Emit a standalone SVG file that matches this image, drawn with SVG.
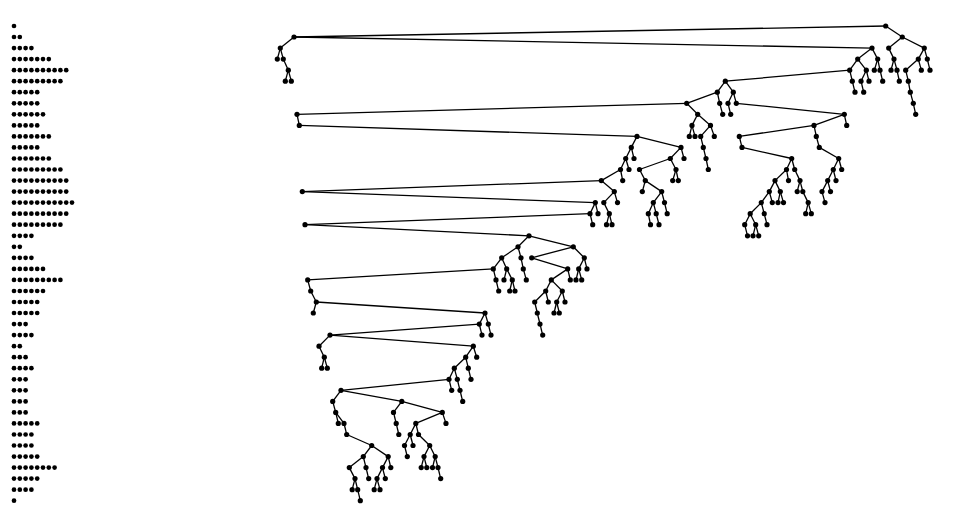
<svg xmlns="http://www.w3.org/2000/svg" width="959" height="532" viewBox="0 0 959 532">
<style>
.e line{stroke:#000;stroke-width:1.3;fill:none}
.nd circle{fill:#000}
.hist circle{fill:#000}
</style>
<rect width="959" height="532" fill="#fff"/>
<g class="hist" id="depth-histogram">
<circle cx="14" cy="26" r="2.35"/>
<circle cx="14" cy="37" r="2.35"/><circle cx="19.8" cy="37" r="2.35"/>
<circle cx="14" cy="48.1" r="2.35"/><circle cx="19.8" cy="48.1" r="2.35"/><circle cx="25.6" cy="48.1" r="2.35"/><circle cx="31.4" cy="48.1" r="2.35"/>
<circle cx="14" cy="59.1" r="2.35"/><circle cx="19.8" cy="59.1" r="2.35"/><circle cx="25.6" cy="59.1" r="2.35"/><circle cx="31.4" cy="59.1" r="2.35"/><circle cx="37.2" cy="59.1" r="2.35"/><circle cx="43" cy="59.1" r="2.35"/><circle cx="48.8" cy="59.1" r="2.35"/>
<circle cx="14" cy="70.2" r="2.35"/><circle cx="19.8" cy="70.2" r="2.35"/><circle cx="25.6" cy="70.2" r="2.35"/><circle cx="31.4" cy="70.2" r="2.35"/><circle cx="37.2" cy="70.2" r="2.35"/><circle cx="43" cy="70.2" r="2.35"/><circle cx="48.8" cy="70.2" r="2.35"/><circle cx="54.6" cy="70.2" r="2.35"/><circle cx="60.4" cy="70.2" r="2.35"/><circle cx="66.2" cy="70.2" r="2.35"/>
<circle cx="14" cy="81.2" r="2.35"/><circle cx="19.8" cy="81.2" r="2.35"/><circle cx="25.6" cy="81.2" r="2.35"/><circle cx="31.4" cy="81.2" r="2.35"/><circle cx="37.2" cy="81.2" r="2.35"/><circle cx="43" cy="81.2" r="2.35"/><circle cx="48.8" cy="81.2" r="2.35"/><circle cx="54.6" cy="81.2" r="2.35"/><circle cx="60.4" cy="81.2" r="2.35"/>
<circle cx="14" cy="92.2" r="2.35"/><circle cx="19.8" cy="92.2" r="2.35"/><circle cx="25.6" cy="92.2" r="2.35"/><circle cx="31.4" cy="92.2" r="2.35"/><circle cx="37.2" cy="92.2" r="2.35"/>
<circle cx="14" cy="103.3" r="2.35"/><circle cx="19.8" cy="103.3" r="2.35"/><circle cx="25.6" cy="103.3" r="2.35"/><circle cx="31.4" cy="103.3" r="2.35"/><circle cx="37.2" cy="103.3" r="2.35"/>
<circle cx="14" cy="114.3" r="2.35"/><circle cx="19.8" cy="114.3" r="2.35"/><circle cx="25.6" cy="114.3" r="2.35"/><circle cx="31.4" cy="114.3" r="2.35"/><circle cx="37.2" cy="114.3" r="2.35"/><circle cx="43" cy="114.3" r="2.35"/>
<circle cx="14" cy="125.4" r="2.35"/><circle cx="19.8" cy="125.4" r="2.35"/><circle cx="25.6" cy="125.4" r="2.35"/><circle cx="31.4" cy="125.4" r="2.35"/><circle cx="37.2" cy="125.4" r="2.35"/>
<circle cx="14" cy="136.4" r="2.35"/><circle cx="19.8" cy="136.4" r="2.35"/><circle cx="25.6" cy="136.4" r="2.35"/><circle cx="31.4" cy="136.4" r="2.35"/><circle cx="37.2" cy="136.4" r="2.35"/><circle cx="43" cy="136.4" r="2.35"/><circle cx="48.8" cy="136.4" r="2.35"/>
<circle cx="14" cy="147.4" r="2.35"/><circle cx="19.8" cy="147.4" r="2.35"/><circle cx="25.6" cy="147.4" r="2.35"/><circle cx="31.4" cy="147.4" r="2.35"/><circle cx="37.2" cy="147.4" r="2.35"/>
<circle cx="14" cy="158.5" r="2.35"/><circle cx="19.8" cy="158.5" r="2.35"/><circle cx="25.6" cy="158.5" r="2.35"/><circle cx="31.4" cy="158.5" r="2.35"/><circle cx="37.2" cy="158.5" r="2.35"/><circle cx="43" cy="158.5" r="2.35"/><circle cx="48.8" cy="158.5" r="2.35"/>
<circle cx="14" cy="169.5" r="2.35"/><circle cx="19.8" cy="169.5" r="2.35"/><circle cx="25.6" cy="169.5" r="2.35"/><circle cx="31.4" cy="169.5" r="2.35"/><circle cx="37.2" cy="169.5" r="2.35"/><circle cx="43" cy="169.5" r="2.35"/><circle cx="48.8" cy="169.5" r="2.35"/><circle cx="54.6" cy="169.5" r="2.35"/><circle cx="60.4" cy="169.5" r="2.35"/>
<circle cx="14" cy="180.6" r="2.35"/><circle cx="19.8" cy="180.6" r="2.35"/><circle cx="25.6" cy="180.6" r="2.35"/><circle cx="31.4" cy="180.6" r="2.35"/><circle cx="37.2" cy="180.6" r="2.35"/><circle cx="43" cy="180.6" r="2.35"/><circle cx="48.8" cy="180.6" r="2.35"/><circle cx="54.6" cy="180.6" r="2.35"/><circle cx="60.4" cy="180.6" r="2.35"/><circle cx="66.2" cy="180.6" r="2.35"/>
<circle cx="14" cy="191.6" r="2.35"/><circle cx="19.8" cy="191.6" r="2.35"/><circle cx="25.6" cy="191.6" r="2.35"/><circle cx="31.4" cy="191.6" r="2.35"/><circle cx="37.2" cy="191.6" r="2.35"/><circle cx="43" cy="191.6" r="2.35"/><circle cx="48.8" cy="191.6" r="2.35"/><circle cx="54.6" cy="191.6" r="2.35"/><circle cx="60.4" cy="191.6" r="2.35"/><circle cx="66.2" cy="191.6" r="2.35"/>
<circle cx="14" cy="202.6" r="2.35"/><circle cx="19.8" cy="202.6" r="2.35"/><circle cx="25.6" cy="202.6" r="2.35"/><circle cx="31.4" cy="202.6" r="2.35"/><circle cx="37.2" cy="202.6" r="2.35"/><circle cx="43" cy="202.6" r="2.35"/><circle cx="48.8" cy="202.6" r="2.35"/><circle cx="54.6" cy="202.6" r="2.35"/><circle cx="60.4" cy="202.6" r="2.35"/><circle cx="66.2" cy="202.6" r="2.35"/><circle cx="72" cy="202.6" r="2.35"/>
<circle cx="14" cy="213.7" r="2.35"/><circle cx="19.8" cy="213.7" r="2.35"/><circle cx="25.6" cy="213.7" r="2.35"/><circle cx="31.4" cy="213.7" r="2.35"/><circle cx="37.2" cy="213.7" r="2.35"/><circle cx="43" cy="213.7" r="2.35"/><circle cx="48.8" cy="213.7" r="2.35"/><circle cx="54.6" cy="213.7" r="2.35"/><circle cx="60.4" cy="213.7" r="2.35"/><circle cx="66.2" cy="213.7" r="2.35"/>
<circle cx="14" cy="224.7" r="2.35"/><circle cx="19.8" cy="224.7" r="2.35"/><circle cx="25.6" cy="224.7" r="2.35"/><circle cx="31.4" cy="224.7" r="2.35"/><circle cx="37.2" cy="224.7" r="2.35"/><circle cx="43" cy="224.7" r="2.35"/><circle cx="48.8" cy="224.7" r="2.35"/><circle cx="54.6" cy="224.7" r="2.35"/><circle cx="60.4" cy="224.7" r="2.35"/>
<circle cx="14" cy="235.8" r="2.35"/><circle cx="19.8" cy="235.8" r="2.35"/><circle cx="25.6" cy="235.8" r="2.35"/><circle cx="31.4" cy="235.8" r="2.35"/>
<circle cx="14" cy="246.8" r="2.35"/><circle cx="19.8" cy="246.8" r="2.35"/>
<circle cx="14" cy="257.8" r="2.35"/><circle cx="19.8" cy="257.8" r="2.35"/><circle cx="25.6" cy="257.8" r="2.35"/><circle cx="31.4" cy="257.8" r="2.35"/>
<circle cx="14" cy="268.9" r="2.35"/><circle cx="19.8" cy="268.9" r="2.35"/><circle cx="25.6" cy="268.9" r="2.35"/><circle cx="31.4" cy="268.9" r="2.35"/><circle cx="37.2" cy="268.9" r="2.35"/><circle cx="43" cy="268.9" r="2.35"/>
<circle cx="14" cy="279.9" r="2.35"/><circle cx="19.8" cy="279.9" r="2.35"/><circle cx="25.6" cy="279.9" r="2.35"/><circle cx="31.4" cy="279.9" r="2.35"/><circle cx="37.2" cy="279.9" r="2.35"/><circle cx="43" cy="279.9" r="2.35"/><circle cx="48.8" cy="279.9" r="2.35"/><circle cx="54.6" cy="279.9" r="2.35"/><circle cx="60.4" cy="279.9" r="2.35"/>
<circle cx="14" cy="291" r="2.35"/><circle cx="19.8" cy="291" r="2.35"/><circle cx="25.6" cy="291" r="2.35"/><circle cx="31.4" cy="291" r="2.35"/><circle cx="37.2" cy="291" r="2.35"/><circle cx="43" cy="291" r="2.35"/>
<circle cx="14" cy="302" r="2.35"/><circle cx="19.8" cy="302" r="2.35"/><circle cx="25.6" cy="302" r="2.35"/><circle cx="31.4" cy="302" r="2.35"/><circle cx="37.2" cy="302" r="2.35"/>
<circle cx="14" cy="313" r="2.35"/><circle cx="19.8" cy="313" r="2.35"/><circle cx="25.6" cy="313" r="2.35"/><circle cx="31.4" cy="313" r="2.35"/><circle cx="37.2" cy="313" r="2.35"/>
<circle cx="14" cy="324.1" r="2.35"/><circle cx="19.8" cy="324.1" r="2.35"/><circle cx="25.6" cy="324.1" r="2.35"/>
<circle cx="14" cy="335.1" r="2.35"/><circle cx="19.8" cy="335.1" r="2.35"/><circle cx="25.6" cy="335.1" r="2.35"/><circle cx="31.4" cy="335.1" r="2.35"/>
<circle cx="14" cy="346.2" r="2.35"/><circle cx="19.8" cy="346.2" r="2.35"/>
<circle cx="14" cy="357.2" r="2.35"/><circle cx="19.8" cy="357.2" r="2.35"/><circle cx="25.6" cy="357.2" r="2.35"/>
<circle cx="14" cy="368.2" r="2.35"/><circle cx="19.8" cy="368.2" r="2.35"/><circle cx="25.6" cy="368.2" r="2.35"/><circle cx="31.4" cy="368.2" r="2.35"/>
<circle cx="14" cy="379.3" r="2.35"/><circle cx="19.8" cy="379.3" r="2.35"/><circle cx="25.6" cy="379.3" r="2.35"/>
<circle cx="14" cy="390.3" r="2.35"/><circle cx="19.8" cy="390.3" r="2.35"/><circle cx="25.6" cy="390.3" r="2.35"/>
<circle cx="14" cy="401.4" r="2.35"/><circle cx="19.8" cy="401.4" r="2.35"/><circle cx="25.6" cy="401.4" r="2.35"/>
<circle cx="14" cy="412.4" r="2.35"/><circle cx="19.8" cy="412.4" r="2.35"/><circle cx="25.6" cy="412.4" r="2.35"/>
<circle cx="14" cy="423.4" r="2.35"/><circle cx="19.8" cy="423.4" r="2.35"/><circle cx="25.6" cy="423.4" r="2.35"/><circle cx="31.4" cy="423.4" r="2.35"/><circle cx="37.2" cy="423.4" r="2.35"/>
<circle cx="14" cy="434.5" r="2.35"/><circle cx="19.8" cy="434.5" r="2.35"/><circle cx="25.6" cy="434.5" r="2.35"/><circle cx="31.4" cy="434.5" r="2.35"/>
<circle cx="14" cy="445.5" r="2.35"/><circle cx="19.8" cy="445.5" r="2.35"/><circle cx="25.6" cy="445.5" r="2.35"/><circle cx="31.4" cy="445.5" r="2.35"/>
<circle cx="14" cy="456.6" r="2.35"/><circle cx="19.8" cy="456.6" r="2.35"/><circle cx="25.6" cy="456.6" r="2.35"/><circle cx="31.4" cy="456.6" r="2.35"/><circle cx="37.2" cy="456.6" r="2.35"/>
<circle cx="14" cy="467.6" r="2.35"/><circle cx="19.8" cy="467.6" r="2.35"/><circle cx="25.6" cy="467.6" r="2.35"/><circle cx="31.4" cy="467.6" r="2.35"/><circle cx="37.2" cy="467.6" r="2.35"/><circle cx="43" cy="467.6" r="2.35"/><circle cx="48.8" cy="467.6" r="2.35"/><circle cx="54.6" cy="467.6" r="2.35"/>
<circle cx="14" cy="478.6" r="2.35"/><circle cx="19.8" cy="478.6" r="2.35"/><circle cx="25.6" cy="478.6" r="2.35"/><circle cx="31.4" cy="478.6" r="2.35"/><circle cx="37.2" cy="478.6" r="2.35"/>
<circle cx="14" cy="489.7" r="2.35"/><circle cx="19.8" cy="489.7" r="2.35"/><circle cx="25.6" cy="489.7" r="2.35"/><circle cx="31.4" cy="489.7" r="2.35"/>
<circle cx="14" cy="500.7" r="2.35"/>
</g>
<g class="e" id="connectors">
<line x1="885.7" y1="26" x2="294" y2="37"/><line x1="885.7" y1="26" x2="902.3" y2="37"/>
<line x1="294" y1="37" x2="280.3" y2="48.1"/><line x1="294" y1="37" x2="872" y2="48.1"/><line x1="902.3" y1="37" x2="888.7" y2="48.1"/><line x1="902.3" y1="37" x2="924.3" y2="48.1"/>
<line x1="280.3" y1="48.1" x2="277.3" y2="59.1"/><line x1="280.3" y1="48.1" x2="283.3" y2="59.1"/><line x1="872" y1="48.1" x2="857.7" y2="59.1"/><line x1="872" y1="48.1" x2="877.7" y2="59.1"/><line x1="888.7" y1="48.1" x2="894" y2="59.1"/><line x1="924.3" y1="48.1" x2="918.3" y2="59.1"/><line x1="924.3" y1="48.1" x2="927.3" y2="59.1"/>
<line x1="283.3" y1="59.1" x2="288.3" y2="70.2"/><line x1="857.7" y1="59.1" x2="849.7" y2="70.2"/><line x1="857.7" y1="59.1" x2="866.3" y2="70.2"/><line x1="877.7" y1="59.1" x2="874.3" y2="70.2"/><line x1="877.7" y1="59.1" x2="880" y2="70.2"/><line x1="894" y1="59.1" x2="891" y2="70.2"/><line x1="894" y1="59.1" x2="897" y2="70.2"/><line x1="918.3" y1="59.1" x2="905.7" y2="70.2"/><line x1="918.3" y1="59.1" x2="921.3" y2="70.2"/><line x1="927.3" y1="59.1" x2="930" y2="70.2"/>
<line x1="288.3" y1="70.2" x2="285.3" y2="81.2"/><line x1="288.3" y1="70.2" x2="291.3" y2="81.2"/><line x1="849.7" y1="70.2" x2="725.3" y2="81.2"/><line x1="849.7" y1="70.2" x2="852.3" y2="81.2"/><line x1="866.3" y1="70.2" x2="861" y2="81.2"/><line x1="866.3" y1="70.2" x2="869" y2="81.2"/><line x1="880" y1="70.2" x2="882.7" y2="81.2"/><line x1="897" y1="70.2" x2="899.3" y2="81.2"/><line x1="905.7" y1="70.2" x2="908.3" y2="81.2"/>
<line x1="725.3" y1="81.2" x2="717.3" y2="92.2"/><line x1="725.3" y1="81.2" x2="733.3" y2="92.2"/><line x1="852.3" y1="81.2" x2="855" y2="92.2"/><line x1="861" y1="81.2" x2="863.7" y2="92.2"/><line x1="908.3" y1="81.2" x2="910.3" y2="92.2"/>
<line x1="717.3" y1="92.2" x2="686.7" y2="103.3"/><line x1="717.3" y1="92.2" x2="719.7" y2="103.3"/><line x1="733.3" y1="92.2" x2="728" y2="103.3"/><line x1="733.3" y1="92.2" x2="736.3" y2="103.3"/><line x1="910.3" y1="92.2" x2="913.3" y2="103.3"/>
<line x1="686.7" y1="103.3" x2="297" y2="114.3"/><line x1="686.7" y1="103.3" x2="697.7" y2="114.3"/><line x1="719.7" y1="103.3" x2="722.7" y2="114.3"/><line x1="728" y1="103.3" x2="730.7" y2="114.3"/><line x1="736.3" y1="103.3" x2="844.3" y2="114.3"/><line x1="913.3" y1="103.3" x2="915.7" y2="114.3"/>
<line x1="297" y1="114.3" x2="299.3" y2="125.4"/><line x1="697.7" y1="114.3" x2="692" y2="125.4"/><line x1="697.7" y1="114.3" x2="710.5" y2="125.4"/><line x1="844.3" y1="114.3" x2="814" y2="125.4"/><line x1="844.3" y1="114.3" x2="846.7" y2="125.4"/>
<line x1="299.3" y1="125.4" x2="637" y2="136.4"/><line x1="692" y1="125.4" x2="689.3" y2="136.4"/><line x1="692" y1="125.4" x2="695" y2="136.4"/><line x1="710.5" y1="125.4" x2="700.7" y2="136.4"/><line x1="710.5" y1="125.4" x2="714.3" y2="136.4"/><line x1="814" y1="125.4" x2="739.3" y2="136.4"/><line x1="814" y1="125.4" x2="816.3" y2="136.4"/>
<line x1="637" y1="136.4" x2="631.3" y2="147.4"/><line x1="637" y1="136.4" x2="681" y2="147.4"/><line x1="700.7" y1="136.4" x2="703.3" y2="147.4"/><line x1="739.3" y1="136.4" x2="742" y2="147.4"/><line x1="816.3" y1="136.4" x2="819.3" y2="147.4"/>
<line x1="631.3" y1="147.4" x2="625.7" y2="158.5"/><line x1="631.3" y1="147.4" x2="634" y2="158.5"/><line x1="681" y1="147.4" x2="670.3" y2="158.5"/><line x1="681" y1="147.4" x2="684" y2="158.5"/><line x1="703.3" y1="147.4" x2="706" y2="158.5"/><line x1="742" y1="147.4" x2="791.7" y2="158.5"/><line x1="819.3" y1="147.4" x2="838.7" y2="158.5"/>
<line x1="625.7" y1="158.5" x2="620.5" y2="169.5"/><line x1="625.7" y1="158.5" x2="629" y2="169.5"/><line x1="670.3" y1="158.5" x2="639.5" y2="169.5"/><line x1="670.3" y1="158.5" x2="676" y2="169.5"/><line x1="706" y1="158.5" x2="708.3" y2="169.5"/><line x1="791.7" y1="158.5" x2="786.5" y2="169.5"/><line x1="791.7" y1="158.5" x2="794.7" y2="169.5"/><line x1="838.7" y1="158.5" x2="833.3" y2="169.5"/><line x1="838.7" y1="158.5" x2="841.7" y2="169.5"/>
<line x1="620.5" y1="169.5" x2="601.3" y2="180.6"/><line x1="620.5" y1="169.5" x2="622.7" y2="180.6"/><line x1="639.5" y1="169.5" x2="645.3" y2="180.6"/><line x1="676" y1="169.5" x2="672.7" y2="180.6"/><line x1="676" y1="169.5" x2="678.3" y2="180.6"/><line x1="786.5" y1="169.5" x2="775" y2="180.6"/><line x1="786.5" y1="169.5" x2="788.5" y2="180.6"/><line x1="794.7" y1="169.5" x2="800" y2="180.6"/><line x1="833.3" y1="169.5" x2="827.7" y2="180.6"/><line x1="833.3" y1="169.5" x2="836" y2="180.6"/>
<line x1="601.3" y1="180.6" x2="302.3" y2="191.6"/><line x1="601.3" y1="180.6" x2="614.3" y2="191.6"/><line x1="645.3" y1="180.6" x2="642.3" y2="191.6"/><line x1="645.3" y1="180.6" x2="661.7" y2="191.6"/><line x1="775" y1="180.6" x2="769.3" y2="191.6"/><line x1="775" y1="180.6" x2="780.3" y2="191.6"/><line x1="800" y1="180.6" x2="797.2" y2="191.6"/><line x1="800" y1="180.6" x2="802.8" y2="191.6"/><line x1="827.7" y1="180.6" x2="822" y2="191.6"/><line x1="827.7" y1="180.6" x2="830.5" y2="191.6"/>
<line x1="302.3" y1="191.6" x2="595.3" y2="202.6"/><line x1="614.3" y1="191.6" x2="603.8" y2="202.6"/><line x1="614.3" y1="191.6" x2="617.5" y2="202.6"/><line x1="661.7" y1="191.6" x2="653.3" y2="202.6"/><line x1="661.7" y1="191.6" x2="664.5" y2="202.6"/><line x1="769.3" y1="191.6" x2="761.3" y2="202.6"/><line x1="769.3" y1="191.6" x2="772.3" y2="202.6"/><line x1="780.3" y1="191.6" x2="778" y2="202.6"/><line x1="780.3" y1="191.6" x2="783.5" y2="202.6"/><line x1="802.8" y1="191.6" x2="808.2" y2="202.6"/><line x1="822" y1="191.6" x2="825" y2="202.6"/>
<line x1="595.3" y1="202.6" x2="590" y2="213.7"/><line x1="595.3" y1="202.6" x2="598" y2="213.7"/><line x1="603.8" y1="202.6" x2="609.3" y2="213.7"/><line x1="653.3" y1="202.6" x2="648.3" y2="213.7"/><line x1="653.3" y1="202.6" x2="656.2" y2="213.7"/><line x1="664.5" y1="202.6" x2="667.2" y2="213.7"/><line x1="761.3" y1="202.6" x2="750.2" y2="213.7"/><line x1="761.3" y1="202.6" x2="764.2" y2="213.7"/><line x1="808.2" y1="202.6" x2="805.7" y2="213.7"/><line x1="808.2" y1="202.6" x2="811.3" y2="213.7"/>
<line x1="590" y1="213.7" x2="305" y2="224.7"/><line x1="590" y1="213.7" x2="592.7" y2="224.7"/><line x1="609.3" y1="213.7" x2="606.5" y2="224.7"/><line x1="609.3" y1="213.7" x2="612" y2="224.7"/><line x1="648.3" y1="213.7" x2="650.5" y2="224.7"/><line x1="656.2" y1="213.7" x2="659" y2="224.7"/><line x1="750.2" y1="213.7" x2="744.7" y2="224.7"/><line x1="750.2" y1="213.7" x2="755.7" y2="224.7"/><line x1="764.2" y1="213.7" x2="767" y2="224.7"/>
<line x1="305" y1="224.7" x2="529" y2="235.8"/><line x1="744.7" y1="224.7" x2="747.5" y2="235.8"/><line x1="755.7" y1="224.7" x2="753" y2="235.8"/><line x1="755.7" y1="224.7" x2="758.7" y2="235.8"/>
<line x1="529" y1="235.8" x2="518" y2="246.8"/><line x1="529" y1="235.8" x2="573.3" y2="246.8"/>
<line x1="518" y1="246.8" x2="501.7" y2="257.8"/><line x1="518" y1="246.8" x2="521" y2="257.8"/><line x1="573.3" y1="246.8" x2="531.7" y2="257.8"/><line x1="573.3" y1="246.8" x2="584.3" y2="257.8"/>
<line x1="501.7" y1="257.8" x2="493.3" y2="268.9"/><line x1="501.7" y1="257.8" x2="506.7" y2="268.9"/><line x1="521" y1="257.8" x2="523.3" y2="268.9"/><line x1="531.7" y1="257.8" x2="567.7" y2="268.9"/><line x1="584.3" y1="257.8" x2="578.7" y2="268.9"/><line x1="584.3" y1="257.8" x2="587" y2="268.9"/>
<line x1="493.3" y1="268.9" x2="307.7" y2="279.9"/><line x1="493.3" y1="268.9" x2="496" y2="279.9"/><line x1="506.7" y1="268.9" x2="504" y2="279.9"/><line x1="506.7" y1="268.9" x2="512.3" y2="279.9"/><line x1="523.3" y1="268.9" x2="526.3" y2="279.9"/><line x1="567.7" y1="268.9" x2="551.3" y2="279.9"/><line x1="567.7" y1="268.9" x2="570.3" y2="279.9"/><line x1="578.7" y1="268.9" x2="576" y2="279.9"/><line x1="578.7" y1="268.9" x2="581.7" y2="279.9"/>
<line x1="307.7" y1="279.9" x2="310.7" y2="291"/><line x1="496" y1="279.9" x2="498.7" y2="291"/><line x1="512.3" y1="279.9" x2="509.7" y2="291"/><line x1="512.3" y1="279.9" x2="515" y2="291"/><line x1="551.3" y1="279.9" x2="545.7" y2="291"/><line x1="551.3" y1="279.9" x2="562.3" y2="291"/>
<line x1="310.7" y1="291" x2="316.3" y2="302"/><line x1="545.7" y1="291" x2="534.7" y2="302"/><line x1="545.7" y1="291" x2="548.3" y2="302"/><line x1="562.3" y1="291" x2="556.7" y2="302"/><line x1="562.3" y1="291" x2="565" y2="302"/>
<line x1="316.3" y1="302" x2="313.3" y2="313"/><line x1="316.3" y1="302" x2="485" y2="313"/><line x1="534.7" y1="302" x2="537.3" y2="313"/><line x1="556.7" y1="302" x2="554" y2="313"/><line x1="556.7" y1="302" x2="559.3" y2="313"/>
<line x1="485" y1="313" x2="479.3" y2="324.1"/><line x1="485" y1="313" x2="488.3" y2="324.1"/><line x1="537.3" y1="313" x2="540" y2="324.1"/>
<line x1="479.3" y1="324.1" x2="330" y2="335.1"/><line x1="479.3" y1="324.1" x2="482" y2="335.1"/><line x1="488.3" y1="324.1" x2="491" y2="335.1"/><line x1="540" y1="324.1" x2="542.7" y2="335.1"/>
<line x1="330" y1="335.1" x2="319" y2="346.2"/><line x1="330" y1="335.1" x2="473.3" y2="346.2"/>
<line x1="319" y1="346.2" x2="324.3" y2="357.2"/><line x1="473.3" y1="346.2" x2="465.7" y2="357.2"/><line x1="473.3" y1="346.2" x2="476.7" y2="357.2"/>
<line x1="324.3" y1="357.2" x2="321.7" y2="368.2"/><line x1="324.3" y1="357.2" x2="327.3" y2="368.2"/><line x1="465.7" y1="357.2" x2="454.3" y2="368.2"/><line x1="465.7" y1="357.2" x2="468.3" y2="368.2"/>
<line x1="454.3" y1="368.2" x2="449" y2="379.3"/><line x1="454.3" y1="368.2" x2="457.3" y2="379.3"/><line x1="468.3" y1="368.2" x2="471" y2="379.3"/>
<line x1="449" y1="379.3" x2="341" y2="390.3"/><line x1="449" y1="379.3" x2="451.7" y2="390.3"/><line x1="457.3" y1="379.3" x2="460" y2="390.3"/>
<line x1="341" y1="390.3" x2="332.7" y2="401.4"/><line x1="341" y1="390.3" x2="401.8" y2="401.4"/><line x1="460" y1="390.3" x2="462.7" y2="401.4"/>
<line x1="332.7" y1="401.4" x2="335.7" y2="412.4"/><line x1="401.8" y1="401.4" x2="393.5" y2="412.4"/><line x1="401.8" y1="401.4" x2="442.3" y2="412.4"/>
<line x1="335.7" y1="412.4" x2="338.3" y2="423.4"/><line x1="335.7" y1="412.4" x2="344" y2="423.4"/><line x1="393.5" y1="412.4" x2="396.2" y2="423.4"/><line x1="442.3" y1="412.4" x2="415.8" y2="423.4"/><line x1="442.3" y1="412.4" x2="446" y2="423.4"/>
<line x1="344" y1="423.4" x2="346.7" y2="434.5"/><line x1="396.2" y1="423.4" x2="398.8" y2="434.5"/><line x1="415.8" y1="423.4" x2="410.2" y2="434.5"/><line x1="415.8" y1="423.4" x2="418.5" y2="434.5"/>
<line x1="346.7" y1="434.5" x2="371.7" y2="445.5"/><line x1="410.2" y1="434.5" x2="404.5" y2="445.5"/><line x1="410.2" y1="434.5" x2="413" y2="445.5"/><line x1="418.5" y1="434.5" x2="429.7" y2="445.5"/>
<line x1="371.7" y1="445.5" x2="363.3" y2="456.6"/><line x1="371.7" y1="445.5" x2="388.2" y2="456.6"/><line x1="404.5" y1="445.5" x2="407.3" y2="456.6"/><line x1="429.7" y1="445.5" x2="424" y2="456.6"/><line x1="429.7" y1="445.5" x2="435.2" y2="456.6"/>
<line x1="363.3" y1="456.6" x2="349.3" y2="467.6"/><line x1="363.3" y1="456.6" x2="366" y2="467.6"/><line x1="388.2" y1="456.6" x2="382.5" y2="467.6"/><line x1="388.2" y1="456.6" x2="390.8" y2="467.6"/><line x1="424" y1="456.6" x2="421.2" y2="467.6"/><line x1="424" y1="456.6" x2="426.8" y2="467.6"/><line x1="435.2" y1="456.6" x2="432.5" y2="467.6"/><line x1="435.2" y1="456.6" x2="438" y2="467.6"/>
<line x1="349.3" y1="467.6" x2="355" y2="478.6"/><line x1="366" y1="467.6" x2="368.7" y2="478.6"/><line x1="382.5" y1="467.6" x2="377" y2="478.6"/><line x1="382.5" y1="467.6" x2="385.3" y2="478.6"/><line x1="438" y1="467.6" x2="440.7" y2="478.6"/>
<line x1="355" y1="478.6" x2="352.2" y2="489.7"/><line x1="355" y1="478.6" x2="357.7" y2="489.7"/><line x1="377" y1="478.6" x2="374.2" y2="489.7"/><line x1="377" y1="478.6" x2="380" y2="489.7"/>
<line x1="357.7" y1="489.7" x2="360.3" y2="500.7"/>
</g>
<g class="nd" id="nodes">
<g id="n0_0"><circle cx="885.7" cy="26" r="2.6"/></g>
<g id="n1_0"><circle cx="294" cy="37" r="2.6"/></g><g id="n1_1"><circle cx="902.3" cy="37" r="2.6"/></g>
<g id="n2_0"><circle cx="280.3" cy="48.1" r="2.6"/></g><g id="n2_1"><circle cx="872" cy="48.1" r="2.6"/></g><g id="n2_2"><circle cx="888.7" cy="48.1" r="2.6"/></g><g id="n2_3"><circle cx="924.3" cy="48.1" r="2.6"/></g>
<g id="n3_0"><circle cx="277.3" cy="59.1" r="2.6"/></g><g id="n3_1"><circle cx="283.3" cy="59.1" r="2.6"/></g><g id="n3_2"><circle cx="857.7" cy="59.1" r="2.6"/></g><g id="n3_3"><circle cx="877.7" cy="59.1" r="2.6"/></g><g id="n3_4"><circle cx="894" cy="59.1" r="2.6"/></g><g id="n3_5"><circle cx="918.3" cy="59.1" r="2.6"/></g><g id="n3_6"><circle cx="927.3" cy="59.1" r="2.6"/></g>
<g id="n4_0"><circle cx="288.3" cy="70.2" r="2.6"/></g><g id="n4_1"><circle cx="849.7" cy="70.2" r="2.6"/></g><g id="n4_2"><circle cx="866.3" cy="70.2" r="2.6"/></g><g id="n4_3"><circle cx="874.3" cy="70.2" r="2.6"/></g><g id="n4_4"><circle cx="880" cy="70.2" r="2.6"/></g><g id="n4_5"><circle cx="891" cy="70.2" r="2.6"/></g><g id="n4_6"><circle cx="897" cy="70.2" r="2.6"/></g><g id="n4_7"><circle cx="905.7" cy="70.2" r="2.6"/></g><g id="n4_8"><circle cx="921.3" cy="70.2" r="2.6"/></g><g id="n4_9"><circle cx="930" cy="70.2" r="2.6"/></g>
<g id="n5_0"><circle cx="285.3" cy="81.2" r="2.6"/></g><g id="n5_1"><circle cx="291.3" cy="81.2" r="2.6"/></g><g id="n5_2"><circle cx="725.3" cy="81.2" r="2.6"/></g><g id="n5_3"><circle cx="852.3" cy="81.2" r="2.6"/></g><g id="n5_4"><circle cx="861" cy="81.2" r="2.6"/></g><g id="n5_5"><circle cx="869" cy="81.2" r="2.6"/></g><g id="n5_6"><circle cx="882.7" cy="81.2" r="2.6"/></g><g id="n5_7"><circle cx="899.3" cy="81.2" r="2.6"/></g><g id="n5_8"><circle cx="908.3" cy="81.2" r="2.6"/></g>
<g id="n6_0"><circle cx="717.3" cy="92.2" r="2.6"/></g><g id="n6_1"><circle cx="733.3" cy="92.2" r="2.6"/></g><g id="n6_2"><circle cx="855" cy="92.2" r="2.6"/></g><g id="n6_3"><circle cx="863.7" cy="92.2" r="2.6"/></g><g id="n6_4"><circle cx="910.3" cy="92.2" r="2.6"/></g>
<g id="n7_0"><circle cx="686.7" cy="103.3" r="2.6"/></g><g id="n7_1"><circle cx="719.7" cy="103.3" r="2.6"/></g><g id="n7_2"><circle cx="728" cy="103.3" r="2.6"/></g><g id="n7_3"><circle cx="736.3" cy="103.3" r="2.6"/></g><g id="n7_4"><circle cx="913.3" cy="103.3" r="2.6"/></g>
<g id="n8_0"><circle cx="297" cy="114.3" r="2.6"/></g><g id="n8_1"><circle cx="697.7" cy="114.3" r="2.6"/></g><g id="n8_2"><circle cx="722.7" cy="114.3" r="2.6"/></g><g id="n8_3"><circle cx="730.7" cy="114.3" r="2.6"/></g><g id="n8_4"><circle cx="844.3" cy="114.3" r="2.6"/></g><g id="n8_5"><circle cx="915.7" cy="114.3" r="2.6"/></g>
<g id="n9_0"><circle cx="299.3" cy="125.4" r="2.6"/></g><g id="n9_1"><circle cx="692" cy="125.4" r="2.6"/></g><g id="n9_2"><circle cx="710.5" cy="125.4" r="2.6"/></g><g id="n9_3"><circle cx="814" cy="125.4" r="2.6"/></g><g id="n9_4"><circle cx="846.7" cy="125.4" r="2.6"/></g>
<g id="n10_0"><circle cx="637" cy="136.4" r="2.6"/></g><g id="n10_1"><circle cx="689.3" cy="136.4" r="2.6"/></g><g id="n10_2"><circle cx="695" cy="136.4" r="2.6"/></g><g id="n10_3"><circle cx="700.7" cy="136.4" r="2.6"/></g><g id="n10_4"><circle cx="714.3" cy="136.4" r="2.6"/></g><g id="n10_5"><circle cx="739.3" cy="136.4" r="2.6"/></g><g id="n10_6"><circle cx="816.3" cy="136.4" r="2.6"/></g>
<g id="n11_0"><circle cx="631.3" cy="147.4" r="2.6"/></g><g id="n11_1"><circle cx="681" cy="147.4" r="2.6"/></g><g id="n11_2"><circle cx="703.3" cy="147.4" r="2.6"/></g><g id="n11_3"><circle cx="742" cy="147.4" r="2.6"/></g><g id="n11_4"><circle cx="819.3" cy="147.4" r="2.6"/></g>
<g id="n12_0"><circle cx="625.7" cy="158.5" r="2.6"/></g><g id="n12_1"><circle cx="634" cy="158.5" r="2.6"/></g><g id="n12_2"><circle cx="670.3" cy="158.5" r="2.6"/></g><g id="n12_3"><circle cx="684" cy="158.5" r="2.6"/></g><g id="n12_4"><circle cx="706" cy="158.5" r="2.6"/></g><g id="n12_5"><circle cx="791.7" cy="158.5" r="2.6"/></g><g id="n12_6"><circle cx="838.7" cy="158.5" r="2.6"/></g>
<g id="n13_0"><circle cx="620.5" cy="169.5" r="2.6"/></g><g id="n13_1"><circle cx="629" cy="169.5" r="2.6"/></g><g id="n13_2"><circle cx="639.5" cy="169.5" r="2.6"/></g><g id="n13_3"><circle cx="676" cy="169.5" r="2.6"/></g><g id="n13_4"><circle cx="708.3" cy="169.5" r="2.6"/></g><g id="n13_5"><circle cx="786.5" cy="169.5" r="2.6"/></g><g id="n13_6"><circle cx="794.7" cy="169.5" r="2.6"/></g><g id="n13_7"><circle cx="833.3" cy="169.5" r="2.6"/></g><g id="n13_8"><circle cx="841.7" cy="169.5" r="2.6"/></g>
<g id="n14_0"><circle cx="601.3" cy="180.6" r="2.6"/></g><g id="n14_1"><circle cx="622.7" cy="180.6" r="2.6"/></g><g id="n14_2"><circle cx="645.3" cy="180.6" r="2.6"/></g><g id="n14_3"><circle cx="672.7" cy="180.6" r="2.6"/></g><g id="n14_4"><circle cx="678.3" cy="180.6" r="2.6"/></g><g id="n14_5"><circle cx="775" cy="180.6" r="2.6"/></g><g id="n14_6"><circle cx="788.5" cy="180.6" r="2.6"/></g><g id="n14_7"><circle cx="800" cy="180.6" r="2.6"/></g><g id="n14_8"><circle cx="827.7" cy="180.6" r="2.6"/></g><g id="n14_9"><circle cx="836" cy="180.6" r="2.6"/></g>
<g id="n15_0"><circle cx="302.3" cy="191.6" r="2.6"/></g><g id="n15_1"><circle cx="614.3" cy="191.6" r="2.6"/></g><g id="n15_2"><circle cx="642.3" cy="191.6" r="2.6"/></g><g id="n15_3"><circle cx="661.7" cy="191.6" r="2.6"/></g><g id="n15_4"><circle cx="769.3" cy="191.6" r="2.6"/></g><g id="n15_5"><circle cx="780.3" cy="191.6" r="2.6"/></g><g id="n15_6"><circle cx="797.2" cy="191.6" r="2.6"/></g><g id="n15_7"><circle cx="802.8" cy="191.6" r="2.6"/></g><g id="n15_8"><circle cx="822" cy="191.6" r="2.6"/></g><g id="n15_9"><circle cx="830.5" cy="191.6" r="2.6"/></g>
<g id="n16_0"><circle cx="595.3" cy="202.6" r="2.6"/></g><g id="n16_1"><circle cx="603.8" cy="202.6" r="2.6"/></g><g id="n16_2"><circle cx="617.5" cy="202.6" r="2.6"/></g><g id="n16_3"><circle cx="653.3" cy="202.6" r="2.6"/></g><g id="n16_4"><circle cx="664.5" cy="202.6" r="2.6"/></g><g id="n16_5"><circle cx="761.3" cy="202.6" r="2.6"/></g><g id="n16_6"><circle cx="772.3" cy="202.6" r="2.6"/></g><g id="n16_7"><circle cx="778" cy="202.6" r="2.6"/></g><g id="n16_8"><circle cx="783.5" cy="202.6" r="2.6"/></g><g id="n16_9"><circle cx="808.2" cy="202.6" r="2.6"/></g><g id="n16_10"><circle cx="825" cy="202.6" r="2.6"/></g>
<g id="n17_0"><circle cx="590" cy="213.7" r="2.6"/></g><g id="n17_1"><circle cx="598" cy="213.7" r="2.6"/></g><g id="n17_2"><circle cx="609.3" cy="213.7" r="2.6"/></g><g id="n17_3"><circle cx="648.3" cy="213.7" r="2.6"/></g><g id="n17_4"><circle cx="656.2" cy="213.7" r="2.6"/></g><g id="n17_5"><circle cx="667.2" cy="213.7" r="2.6"/></g><g id="n17_6"><circle cx="750.2" cy="213.7" r="2.6"/></g><g id="n17_7"><circle cx="764.2" cy="213.7" r="2.6"/></g><g id="n17_8"><circle cx="805.7" cy="213.7" r="2.6"/></g><g id="n17_9"><circle cx="811.3" cy="213.7" r="2.6"/></g>
<g id="n18_0"><circle cx="305" cy="224.7" r="2.6"/></g><g id="n18_1"><circle cx="592.7" cy="224.7" r="2.6"/></g><g id="n18_2"><circle cx="606.5" cy="224.7" r="2.6"/></g><g id="n18_3"><circle cx="612" cy="224.7" r="2.6"/></g><g id="n18_4"><circle cx="650.5" cy="224.7" r="2.6"/></g><g id="n18_5"><circle cx="659" cy="224.7" r="2.6"/></g><g id="n18_6"><circle cx="744.7" cy="224.7" r="2.6"/></g><g id="n18_7"><circle cx="755.7" cy="224.7" r="2.6"/></g><g id="n18_8"><circle cx="767" cy="224.7" r="2.6"/></g>
<g id="n19_0"><circle cx="529" cy="235.8" r="2.6"/></g><g id="n19_1"><circle cx="747.5" cy="235.8" r="2.6"/></g><g id="n19_2"><circle cx="753" cy="235.8" r="2.6"/></g><g id="n19_3"><circle cx="758.7" cy="235.8" r="2.6"/></g>
<g id="n20_0"><circle cx="518" cy="246.8" r="2.6"/></g><g id="n20_1"><circle cx="573.3" cy="246.8" r="2.6"/></g>
<g id="n21_0"><circle cx="501.7" cy="257.8" r="2.6"/></g><g id="n21_1"><circle cx="521" cy="257.8" r="2.6"/></g><g id="n21_2"><circle cx="531.7" cy="257.8" r="2.6"/></g><g id="n21_3"><circle cx="584.3" cy="257.8" r="2.6"/></g>
<g id="n22_0"><circle cx="493.3" cy="268.9" r="2.6"/></g><g id="n22_1"><circle cx="506.7" cy="268.9" r="2.6"/></g><g id="n22_2"><circle cx="523.3" cy="268.9" r="2.6"/></g><g id="n22_3"><circle cx="567.7" cy="268.9" r="2.6"/></g><g id="n22_4"><circle cx="578.7" cy="268.9" r="2.6"/></g><g id="n22_5"><circle cx="587" cy="268.9" r="2.6"/></g>
<g id="n23_0"><circle cx="307.7" cy="279.9" r="2.6"/></g><g id="n23_1"><circle cx="496" cy="279.9" r="2.6"/></g><g id="n23_2"><circle cx="504" cy="279.9" r="2.6"/></g><g id="n23_3"><circle cx="512.3" cy="279.9" r="2.6"/></g><g id="n23_4"><circle cx="526.3" cy="279.9" r="2.6"/></g><g id="n23_5"><circle cx="551.3" cy="279.9" r="2.6"/></g><g id="n23_6"><circle cx="570.3" cy="279.9" r="2.6"/></g><g id="n23_7"><circle cx="576" cy="279.9" r="2.6"/></g><g id="n23_8"><circle cx="581.7" cy="279.9" r="2.6"/></g>
<g id="n24_0"><circle cx="310.7" cy="291" r="2.6"/></g><g id="n24_1"><circle cx="498.7" cy="291" r="2.6"/></g><g id="n24_2"><circle cx="509.7" cy="291" r="2.6"/></g><g id="n24_3"><circle cx="515" cy="291" r="2.6"/></g><g id="n24_4"><circle cx="545.7" cy="291" r="2.6"/></g><g id="n24_5"><circle cx="562.3" cy="291" r="2.6"/></g>
<g id="n25_0"><circle cx="316.3" cy="302" r="2.6"/></g><g id="n25_1"><circle cx="534.7" cy="302" r="2.6"/></g><g id="n25_2"><circle cx="548.3" cy="302" r="2.6"/></g><g id="n25_3"><circle cx="556.7" cy="302" r="2.6"/></g><g id="n25_4"><circle cx="565" cy="302" r="2.6"/></g>
<g id="n26_0"><circle cx="313.3" cy="313" r="2.6"/></g><g id="n26_1"><circle cx="485" cy="313" r="2.6"/></g><g id="n26_2"><circle cx="537.3" cy="313" r="2.6"/></g><g id="n26_3"><circle cx="554" cy="313" r="2.6"/></g><g id="n26_4"><circle cx="559.3" cy="313" r="2.6"/></g>
<g id="n27_0"><circle cx="479.3" cy="324.1" r="2.6"/></g><g id="n27_1"><circle cx="488.3" cy="324.1" r="2.6"/></g><g id="n27_2"><circle cx="540" cy="324.1" r="2.6"/></g>
<g id="n28_0"><circle cx="330" cy="335.1" r="2.6"/></g><g id="n28_1"><circle cx="482" cy="335.1" r="2.6"/></g><g id="n28_2"><circle cx="491" cy="335.1" r="2.6"/></g><g id="n28_3"><circle cx="542.7" cy="335.1" r="2.6"/></g>
<g id="n29_0"><circle cx="319" cy="346.2" r="2.6"/></g><g id="n29_1"><circle cx="473.3" cy="346.2" r="2.6"/></g>
<g id="n30_0"><circle cx="324.3" cy="357.2" r="2.6"/></g><g id="n30_1"><circle cx="465.7" cy="357.2" r="2.6"/></g><g id="n30_2"><circle cx="476.7" cy="357.2" r="2.6"/></g>
<g id="n31_0"><circle cx="321.7" cy="368.2" r="2.6"/></g><g id="n31_1"><circle cx="327.3" cy="368.2" r="2.6"/></g><g id="n31_2"><circle cx="454.3" cy="368.2" r="2.6"/></g><g id="n31_3"><circle cx="468.3" cy="368.2" r="2.6"/></g>
<g id="n32_0"><circle cx="449" cy="379.3" r="2.6"/></g><g id="n32_1"><circle cx="457.3" cy="379.3" r="2.6"/></g><g id="n32_2"><circle cx="471" cy="379.3" r="2.6"/></g>
<g id="n33_0"><circle cx="341" cy="390.3" r="2.6"/></g><g id="n33_1"><circle cx="451.7" cy="390.3" r="2.6"/></g><g id="n33_2"><circle cx="460" cy="390.3" r="2.6"/></g>
<g id="n34_0"><circle cx="332.7" cy="401.4" r="2.6"/></g><g id="n34_1"><circle cx="401.8" cy="401.4" r="2.6"/></g><g id="n34_2"><circle cx="462.7" cy="401.4" r="2.6"/></g>
<g id="n35_0"><circle cx="335.7" cy="412.4" r="2.6"/></g><g id="n35_1"><circle cx="393.5" cy="412.4" r="2.6"/></g><g id="n35_2"><circle cx="442.3" cy="412.4" r="2.6"/></g>
<g id="n36_0"><circle cx="338.3" cy="423.4" r="2.6"/></g><g id="n36_1"><circle cx="344" cy="423.4" r="2.6"/></g><g id="n36_2"><circle cx="396.2" cy="423.4" r="2.6"/></g><g id="n36_3"><circle cx="415.8" cy="423.4" r="2.6"/></g><g id="n36_4"><circle cx="446" cy="423.4" r="2.6"/></g>
<g id="n37_0"><circle cx="346.7" cy="434.5" r="2.6"/></g><g id="n37_1"><circle cx="398.8" cy="434.5" r="2.6"/></g><g id="n37_2"><circle cx="410.2" cy="434.5" r="2.6"/></g><g id="n37_3"><circle cx="418.5" cy="434.5" r="2.6"/></g>
<g id="n38_0"><circle cx="371.7" cy="445.5" r="2.6"/></g><g id="n38_1"><circle cx="404.5" cy="445.5" r="2.6"/></g><g id="n38_2"><circle cx="413" cy="445.5" r="2.6"/></g><g id="n38_3"><circle cx="429.7" cy="445.5" r="2.6"/></g>
<g id="n39_0"><circle cx="363.3" cy="456.6" r="2.6"/></g><g id="n39_1"><circle cx="388.2" cy="456.6" r="2.6"/></g><g id="n39_2"><circle cx="407.3" cy="456.6" r="2.6"/></g><g id="n39_3"><circle cx="424" cy="456.6" r="2.6"/></g><g id="n39_4"><circle cx="435.2" cy="456.6" r="2.6"/></g>
<g id="n40_0"><circle cx="349.3" cy="467.6" r="2.6"/></g><g id="n40_1"><circle cx="366" cy="467.6" r="2.6"/></g><g id="n40_2"><circle cx="382.5" cy="467.6" r="2.6"/></g><g id="n40_3"><circle cx="390.8" cy="467.6" r="2.6"/></g><g id="n40_4"><circle cx="421.2" cy="467.6" r="2.6"/></g><g id="n40_5"><circle cx="426.8" cy="467.6" r="2.6"/></g><g id="n40_6"><circle cx="432.5" cy="467.6" r="2.6"/></g><g id="n40_7"><circle cx="438" cy="467.6" r="2.6"/></g>
<g id="n41_0"><circle cx="355" cy="478.6" r="2.6"/></g><g id="n41_1"><circle cx="368.7" cy="478.6" r="2.6"/></g><g id="n41_2"><circle cx="377" cy="478.6" r="2.6"/></g><g id="n41_3"><circle cx="385.3" cy="478.6" r="2.6"/></g><g id="n41_4"><circle cx="440.7" cy="478.6" r="2.6"/></g>
<g id="n42_0"><circle cx="352.2" cy="489.7" r="2.6"/></g><g id="n42_1"><circle cx="357.7" cy="489.7" r="2.6"/></g><g id="n42_2"><circle cx="374.2" cy="489.7" r="2.6"/></g><g id="n42_3"><circle cx="380" cy="489.7" r="2.6"/></g>
<g id="n43_0"><circle cx="360.3" cy="500.7" r="2.6"/></g>
</g>
</svg>
